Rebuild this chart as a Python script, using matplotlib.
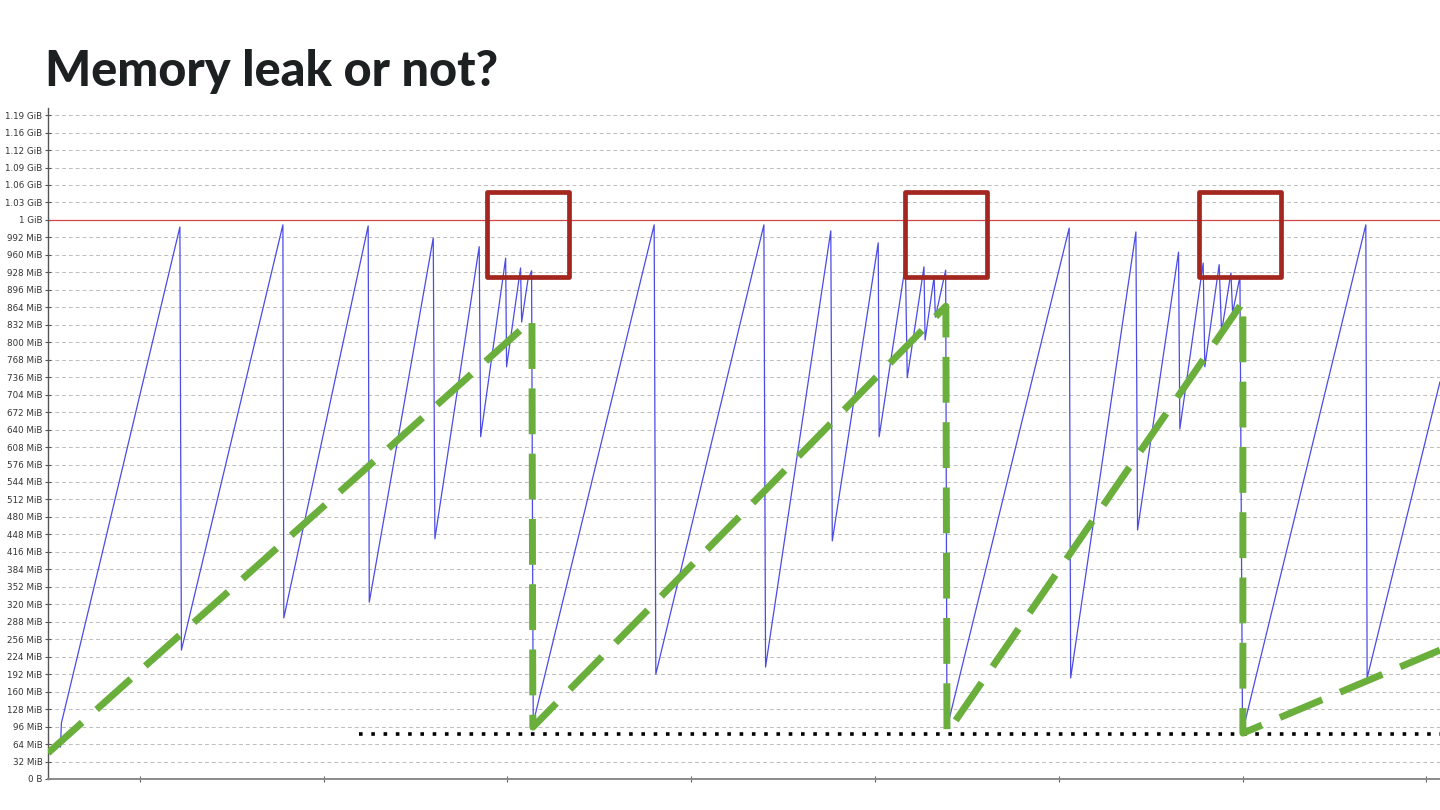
import numpy as np
import matplotlib
matplotlib.use("Agg")
import matplotlib.pyplot as plt
from matplotlib.patches import Rectangle

# heap usage over time (time in arbitrary units, memory in MiB)
t_heap = [0.5675, 0.573, 0.799, 1.2176, 1.2258, 1.778, 1.783, 2.242, 2.248,
          2.596, 2.605, 2.846, 2.854, 2.990, 2.995, 3.071, 3.077, 3.111, 3.131,
          3.140, 3.798, 3.807, 4.395, 4.404, 4.759, 4.767, 5.017, 5.022, 5.165,
          5.175, 5.266, 5.272, 5.321, 5.328, 5.384, 5.391, 6.056, 6.064, 6.419,
          6.428, 6.651, 6.658, 6.785, 6.794, 6.872, 6.885, 6.936, 6.945, 6.985,
          6.999, 7.670, 7.677, 8.073]
mem_heap = [58.6, 102.6, 419.5, 1011, 236, 1015, 295, 1013, 324,
            991, 440, 975, 627, 954, 755, 936, 837, 914, 931,
            102.6, 1015, 192, 1015, 205, 1004, 436, 982, 627, 942,
            735, 938, 804, 920, 846, 932, 93, 1009, 185, 1002,
            456, 965, 641, 945, 755, 942, 819, 927, 854, 920,
            86, 1015, 185, 727]

# green trend annotation
t_trend = [0.5, 3.133, 3.138, 5.385, 5.391, 7.001, 7.001, 8.073]
mem_trend = [47.6, 841, 95, 866, 84, 874, 84, 236]

# baseline after full GC
t_base = [2.1915, 8.073]
mem_base = [82.4, 82.4]

limit_mem = 1024
# highlighted regions: (t_start, t_end)
boxes_t = [(2.888, 3.334), (5.162, 5.608), (6.762, 7.208)]
box_mem = (920, 1076)

ytick_vals = list(range(0, 1217, 32))
def mem_label(v):
    if v == 0:
        return "0 B"
    if v < 1024:
        return f"{v} MiB"
    if v == 1024:
        return "1 GiB"
    return f"{v / 1024:.2f} GiB"
ytick_labels = [mem_label(v) for v in ytick_vals]
xtick_vals = [1, 2, 3, 4, 5, 6, 7, 8]

fig = plt.figure(figsize=(14.4, 8.1), dpi=100)
ax = fig.add_axes([48 / 1440, 1 - 779 / 810, 1 - 48 / 1440, (779 - 108) / 810])

ax.set_xlim(0.5, 8.0735)
ax.set_ylim(0, 1229)

for v in ytick_vals:
    ax.axhline(v, color="#bcbcbc", lw=0.7, ls=(0, (4, 3)), zorder=0)

ax.plot(t_heap, mem_heap, color="#4b4be6", lw=0.9, zorder=2)
ax.axhline(limit_mem, color="#d0474a", lw=0.9, zorder=2)
ax.plot(t_base, mem_base, color="black", lw=2.6, ls=(0, (1, 2.4)), zorder=3)
ax.plot(t_trend, mem_trend, color="#6aaf3c", lw=5, ls=(0, (6.6, 2.8)),
        solid_capstyle="butt", dash_capstyle="butt", zorder=4)

for t0, t1 in boxes_t:
    ax.add_patch(Rectangle((t0, box_mem[0]), t1 - t0, box_mem[1] - box_mem[0],
                           fill=False, ec="#a3271f", lw=3.4, joinstyle="round",
                           zorder=5))

ax.set_yticks(ytick_vals)
ax.set_yticklabels(ytick_labels, fontsize=6.3, color="#333333")
ax.set_xticks(xtick_vals)
ax.set_xticklabels([])
ax.tick_params(axis="y", direction="inout", length=5, width=0.8, pad=1.5,
               color="#555555")
ax.tick_params(axis="x", direction="inout", length=5, width=0.8,
               color="#666666")
for s in ["top", "right"]:
    ax.spines[s].set_visible(False)
ax.spines["left"].set_color("#555555")
ax.spines["left"].set_linewidth(1.0)
ax.spines["bottom"].set_color("#8a8a8a")
ax.spines["bottom"].set_linewidth(1.4)

fig.text(45 / 1440, 1 - 86 / 810, "Memory leak or not?", fontsize=35,
         fontweight=900, family=["Lato", "DejaVu Sans"], color="#1c2021",
         va="baseline", ha="left")

fig.savefig("out.png", dpi=100)
